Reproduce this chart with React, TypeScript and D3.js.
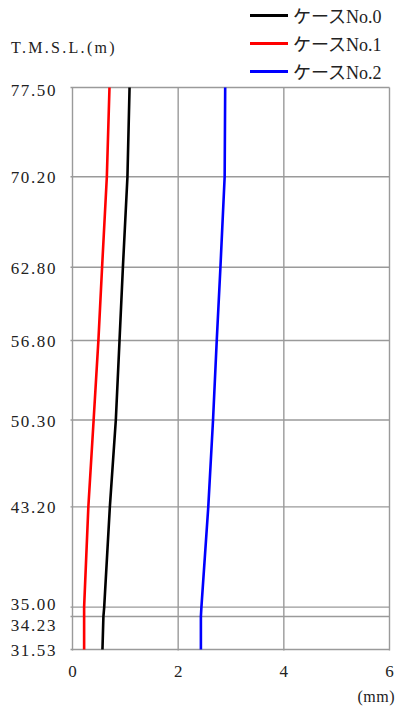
import React from "react";
import * as d3 from "d3";

const elevations = [77.5, 70.2, 62.8, 56.8, 50.3, 43.2, 35.0, 34.23, 31.53];
const yTickLabels = ["77.50", "70.20", "62.80", "56.80", "50.30", "43.20", "35.00", "34.23", "31.53"];
const xTicks = [0, 2, 4, 6];
const case0 = [1.08, 1.04, 0.954, 0.89, 0.82, 0.707, 0.6, 0.585, 0.567];
const case1 = [0.7, 0.65, 0.56, 0.49, 0.4, 0.3, 0.22, 0.22, 0.22];
const case2 = [2.89, 2.88, 2.8, 2.73, 2.66, 2.57, 2.44, 2.43, 2.43];
const seriesNames = ["ケースNo.0", "ケースNo.1", "ケースNo.2"];
const seriesColors = ["#000000", "#ff0000", "#0000ff"];

// label nudges (px) to keep crowded elevation labels apart
const labelNudge = [2, 0, 0, 0, 0, 0, -3.5, 8.5, 0];

const W = 396;
const H = 711;
const left = 72.5;
const right = 389.5;
const top = 87.5;
const bottom = 649.5;

export default function App() {
  const x = d3.scaleLinear().domain([0, 6]).range([left, right]);
  const y = d3.scaleLinear().domain([31.53, 77.5]).range([bottom, top]);
  const series = [case0, case1, case2];
  const line = d3
    .line<[number, number]>()
    .x((d) => x(d[0]))
    .y((d) => y(d[1]));
  const font = '"Liberation Serif", "DejaVu Serif", "Noto Sans CJK JP", serif';
  const grid = "#9a9a9a";
  return (
    <svg
      width={W}
      height={H}
      style={{ position: "absolute", left: 0, top: 0, background: "#fff", fontFamily: font }}
    >
      {elevations.map((e, i) => (
        <line key={"h" + i} x1={left - 2} x2={right} y1={y(e)} y2={y(e)} stroke={grid} strokeWidth={1.4} />
      ))}
      {xTicks.map((t) => (
        <line key={"v" + t} x1={x(t)} x2={x(t)} y1={top} y2={bottom + 1} stroke={grid} strokeWidth={1.4} />
      ))}
      {elevations.map((e, i) => (
        <text
          key={"yl" + i}
          x={57}
          y={y(e) + 6.5 + labelNudge[i]}
          textAnchor="end"
          fontSize={17}
          letterSpacing={1.6}
          fill="#222"
          style={{ fontFamily: font }}
        >
          {yTickLabels[i]}
        </text>
      ))}
      {xTicks.map((t) => (
        <text key={"xl" + t} x={x(t)} y={677} textAnchor="middle" fontSize={17} fill="#222" style={{ fontFamily: font }}>
          {t}
        </text>
      ))}
      <text x={395} y={702} textAnchor="end" fontSize={16} fill="#222" letterSpacing={0.5} style={{ fontFamily: font }}>
        (mm)
      </text>
      <text x={11} y={53} fontSize={16} fill="#222" letterSpacing={2.3} style={{ fontFamily: font }}>
        T.M.S.L.(m)
      </text>
      {series.map((s, i) => (
        <path
          key={"s" + i}
          d={line(s.map((v, j) => [v, elevations[j]] as [number, number])) || ""}
          fill="none"
          stroke={seriesColors[i]}
          strokeWidth={2.6}
        />
      ))}
      {seriesNames.map((n, i) => (
        <g key={"lg" + i} transform={`translate(0, ${15.5 + i * 28})`}>
          <line x1={250} x2={288} y1={0} y2={0} stroke={seriesColors[i]} strokeWidth={3} />
          <text x={293} y={7} fontSize={18} fill="#222" style={{ fontFamily: font }}>
            {n}
          </text>
        </g>
      ))}
    </svg>
  );
}
